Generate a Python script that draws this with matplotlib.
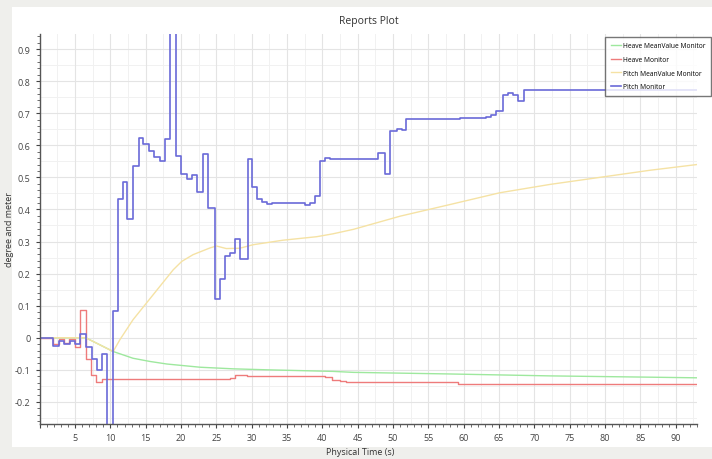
import matplotlib
matplotlib.use("Agg")
import matplotlib.pyplot as plt
import numpy as np
from matplotlib.patches import Rectangle
from matplotlib.ticker import MultipleLocator, FuncFormatter

plt.rcParams["font.family"] = ["Open Sans", "DejaVu Sans"]

# Pitch Monitor (step data, value holds until next time)
pitch_t = [0, 1.9, 2.7, 3.45, 4.25, 5.05, 5.65, 6.55, 7.35, 8.05, 8.75, 9.57, 10.4, 11.05,
           11.8, 12.4, 13.15, 14.05, 14.66, 15.5, 16.2, 17.0, 17.7, 18.5, 19.3, 20.05, 20.9,
           21.6, 22.3, 23.1, 23.85, 24.8, 25.5, 26.2, 26.9, 27.7, 28.3, 29.5, 30.05, 30.8,
           31.5, 32.2, 32.9, 37.5, 38.2, 38.9, 39.6, 40.4, 41.1, 43.0, 47.9, 48.8, 49.6,
           50.5, 51.2, 51.8, 59.4, 63.1, 63.9, 64.6, 65.5, 66.2, 67.0, 67.7, 68.5, 93]
pitch_v = [0, -0.025, -0.009, -0.019, -0.009, -0.019, 0.012, -0.029, -0.066, -0.1, -0.051, -0.4, 0.082, 0.434,
           0.487, 0.369, 0.535, 0.624, 0.603, 0.582, 0.565, 0.551, 0.619, 1.0, 0.567, 0.509,
           0.496, 0.506, 0.454, 0.572, 0.405, 0.121, 0.183, 0.254, 0.265, 0.308, 0.246, 0.556, 0.47,
           0.431, 0.423, 0.416, 0.419, 0.415, 0.42, 0.442, 0.551, 0.561, 0.558, 0.556, 0.577, 0.511, 0.645,
           0.652, 0.648, 0.681, 0.684, 0.688, 0.694, 0.707, 0.756, 0.762, 0.756, 0.738, 0.773, 0.773]

# Heave Monitor (step data)
heave_t = [0, 1.9, 2.8, 3.5, 4.2, 5.0, 5.65, 6.55, 7.2, 7.95, 8.75, 26.9, 27.6, 29.3, 40.3,
           41.3, 42.5, 43.4, 58.8, 59.2, 93]
heave_v = [0, -0.02, -0.005, -0.015, -0.005, -0.028, 0.088, -0.067, -0.116, -0.139, -0.13, -0.126,
           -0.116, -0.119, -0.123, -0.131, -0.136, -0.139, -0.137, -0.143, -0.143]

# Heave MeanValue Monitor
heave_mean_t = [0, 5.6, 6.5, 8.5, 10.4, 13.2, 15.6, 18.0, 22.7, 27.4, 32.1, 41.5, 44.4, 58, 72.2, 86.3, 93]
heave_mean_v = [0, 0, 0.0, -0.022, -0.043, -0.064, -0.074, -0.082, -0.092, -0.097, -0.100, -0.105,
                -0.108, -0.113, -0.119, -0.123, -0.125]

# Pitch MeanValue Monitor
pitch_mean_t = [0, 5.6, 6.5, 8.5, 10.4, 11.35, 13.2, 15.1, 17.0, 18.9, 20.1, 21.7, 24.1, 25.0, 26.4,
                28.3, 30.2, 34.4, 39.2, 41.5, 44.4, 51, 58, 65.1, 72.2, 86.3, 93]
pitch_mean_v = [0, 0, 0.0, -0.022, -0.043, -0.006, 0.056, 0.108, 0.16, 0.212, 0.238, 0.259, 0.28,
                0.286, 0.278, 0.279, 0.29, 0.304, 0.315, 0.324, 0.338, 0.379, 0.415, 0.452, 0.478, 0.522, 0.54]

fig = plt.figure(figsize=(7.12, 4.6), dpi=100, facecolor="#efefec")
fig.patches.append(Rectangle((12 / 712, 12 / 460), 700 / 712, 440 / 460,
                             transform=fig.transFigure, facecolor="white", edgecolor="none", zorder=-10))

ax = fig.add_axes([39.7 / 712, 35 / 460, 657.3 / 712, 390 / 460])
ax.set_facecolor("white")

ax.plot(heave_mean_t, heave_mean_v, color="#9ee89e", lw=1.0, label="Heave MeanValue Monitor")
ax.step(heave_t, heave_v, where="post", color="#ee7b7b", lw=1.0, label="Heave Monitor")
ax.plot(pitch_mean_t, pitch_mean_v, color="#f5e2a4", lw=1.0, label="Pitch MeanValue Monitor")
ax.step(pitch_t, pitch_v, where="post", color="#6a6ad8", lw=1.2, label="Pitch Monitor")

ax.set_xlim(0, 93)
ax.set_ylim(-0.269, 0.947)

ax.xaxis.set_major_locator(MultipleLocator(5))
ax.xaxis.set_minor_locator(MultipleLocator(1))
ax.yaxis.set_major_locator(MultipleLocator(0.1))
ax.yaxis.set_minor_locator(MultipleLocator(0.02))
ax.xaxis.set_major_formatter(FuncFormatter(lambda v, p: "" if abs(v) < 1e-9 else f"{v:g}"))
ax.yaxis.set_major_formatter(FuncFormatter(lambda v, p: "0" if abs(v) < 1e-9 else f"{v:.1f}"))

# grid: majors plus half-major lines
ax.grid(True, which="major", color="#e4e4e4", lw=0.8, zorder=0)
for x in np.arange(2.5, 93, 5):
    ax.axvline(x, color="#f1f1f1", lw=0.7, zorder=0)
for y in np.arange(-0.25, 0.95, 0.1):
    ax.axhline(y, color="#f1f1f1", lw=0.7, zorder=0)
ax.set_axisbelow(True)

for s in ("top", "right"):
    ax.spines[s].set_visible(False)
for s in ("left", "bottom"):
    ax.spines[s].set_color("#555555")
    ax.spines[s].set_linewidth(1.0)

ax.tick_params(which="major", labelsize=6.5, colors="#444444", length=3, width=0.8, direction="out")
ax.tick_params(which="minor", length=2, width=0.6, colors="#555555", direction="out")

ax.set_xlabel("Physical Time (s)", fontsize=6.5, color="#333333")
ax.xaxis.set_label_coords(0.487, -0.059)
ax.set_ylabel("degree and meter", fontsize=6.5, color="#333333")
ax.yaxis.set_label_coords(-0.039, 0.5)
ax.set_title("Reports Plot", fontsize=7.5, color="#333333", pad=8)

leg = fig.legend(loc="upper right", bbox_to_anchor=(711 / 712, 422 / 460), fontsize=4.8,
                 frameon=True, fancybox=False, handlelength=1.6, borderpad=0.8,
                 labelspacing=1.0, handletextpad=0.3, borderaxespad=0)
leg.get_frame().set_edgecolor("#555555")
leg.get_frame().set_linewidth(1.0)

fig.savefig("out.png", dpi=100, facecolor=fig.get_facecolor())
